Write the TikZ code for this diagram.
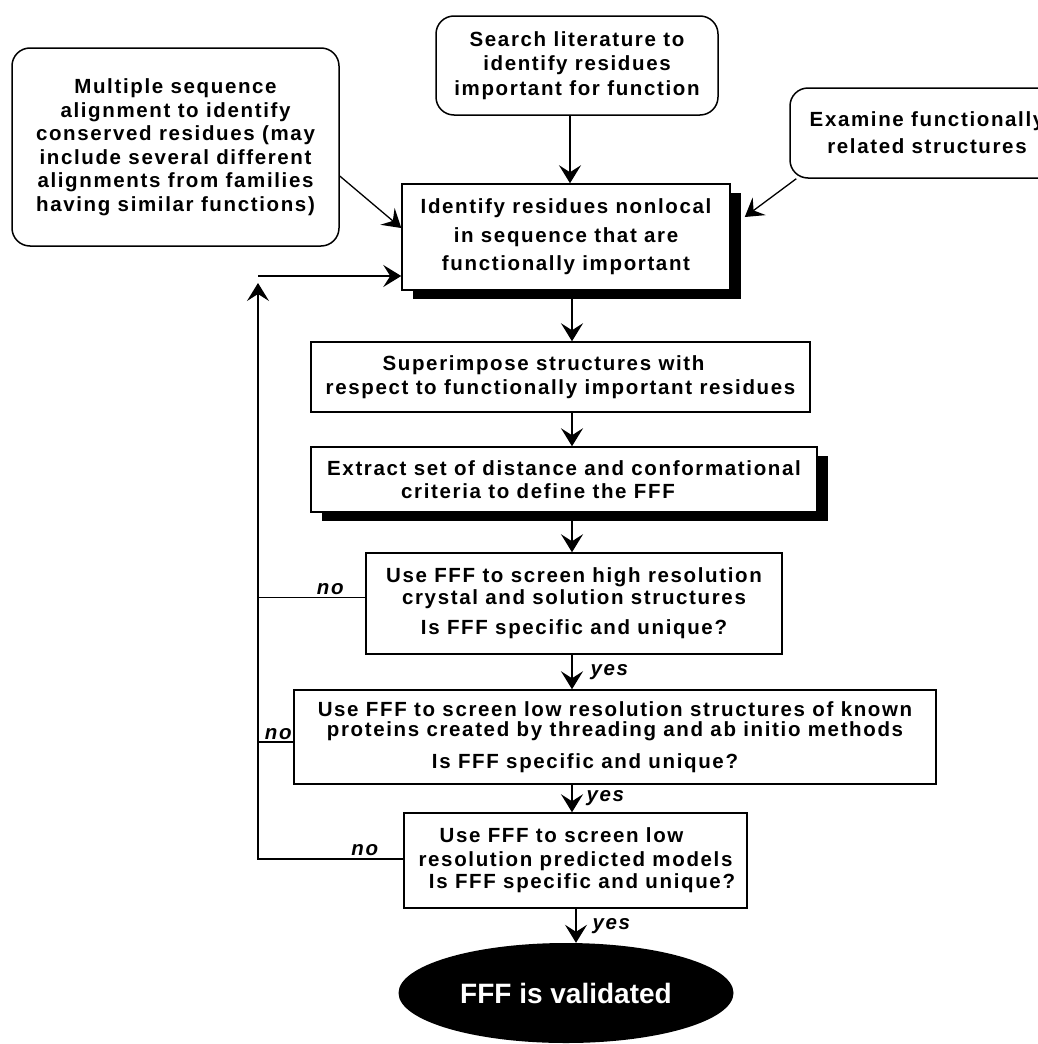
\documentclass[tikz,border=0pt]{standalone}
\usepackage{fontspec}
\usetikzlibrary{arrows.meta,shadows,shapes.geometric}
\newfontfamily\boxfont[LetterSpace=8]{Liberation Sans}
\newfontfamily\ovalfont{Liberation Sans}

\begin{document}
\begin{tikzpicture}[x=1pt,y=-1pt]

    % Page frame
    \useasboundingbox (0,0) rectangle (1037,1044);

    \tikzset{
      txt/.style={font=\boxfont\bfseries\fontsize{20.5pt}{23.5pt}\selectfont, align=center, inner sep=0pt},
      soft/.style={txt, draw, line width=1.5pt, rounded corners=18pt},
      box/.style={txt, draw, line width=1.5pt, fill=white},
      heavy/.style={box, drop shadow={shadow xshift=11pt, shadow yshift=-9pt, fill=black, opacity=1}},
      flow/.style={-{Stealth[length=18pt,width=22pt,inset=7pt]}, line width=1.3pt},
      loopline/.style={line width=1.3pt},
      answer/.style={font=\boxfont\bfseries\itshape\fontsize{20.5pt}{22pt}\selectfont, inner sep=0pt}
    }

    % Sources of residues
    \node[soft, minimum width=282pt, minimum height=99pt] (search) at (577,65.5)
      {Search literature to\\[1pt] identify residues\\[1pt] important for function};
    \node[soft, minimum width=327pt, minimum height=198pt] (multi) at (175.5,147)
      {Multiple sequence\\ alignment to identify\\ conserved residues (may\\ include several different\\ alignments from families\\ having similar functions)};
    \node[soft, minimum width=274pt, minimum height=90pt] (examine) at (927,133)
      {Examine functionally\\[3.5pt] related structures};

    % Main column
    \node[heavy, minimum width=328pt, minimum height=106pt] (identify) at (566,237)
      {Identify residues nonlocal\\[5pt] in sequence that are\\[5pt] functionally important};
    \node[box, minimum width=499pt, minimum height=70pt] (superimpose) at (560.5,377)
      {Superimpose structures with\hspace*{34pt}\\ respect to functionally important residues};
    \node[heavy, minimum width=506pt, minimum height=65pt] (extract) at (564,479.5)
      {Extract set of distance and conformational\\ criteria to define the FFF\hspace*{52pt}};
    \node[box, minimum width=416pt, minimum height=101pt] (high) at (574,603.5)
      {Use FFF to screen high resolution\\[-1.5pt] crystal and solution structures\\[6.5pt] Is FFF specific and unique?};
    \node[box, minimum width=642pt, minimum height=94pt] (low) at (615,737)
      {Use FFF to screen low resolution structures of known\\[-3.5pt] proteins created by threading and ab initio methods\\[8pt] Is FFF specific and unique?\hspace*{60pt}};
    \node[box, minimum width=343pt, minimum height=95pt] (predicted) at (575.5,860.5)
      {Use FFF to screen low\hspace*{28pt}\\ resolution predicted models\\[-1pt] \hspace*{13pt}Is FFF specific and unique?};
    \node[ellipse, fill=black, minimum width=335pt, minimum height=100pt, inner sep=0pt, text=white,
      font=\ovalfont\bfseries\fontsize{28pt}{32pt}\selectfont] (validated) at (566,993) {FFF is validated};

    \coordinate (spine) at (572,0);
    \coordinate (spineb) at (576,0);
    \coordinate (loop) at (258,276);
    \coordinate (searchfoot) at ([xshift=-7pt]search.south);
    \coordinate (highno) at ([yshift=6pt]high.west);
    \coordinate (lowno) at ([yshift=-5pt]low.west);
    \coordinate (predno) at ([yshift=1.5pt]predicted.west);

    % Into the main box
    \draw[flow] (searchfoot) -- (searchfoot |- identify.north);
    \draw[flow] ([yshift=-29pt]multi.east) -- ([yshift=9pt]identify.west);
    \draw[flow] ([xshift=7pt]examine.south west) -- ([xshift=14pt,yshift=20pt]identify.east);

    % Down the column
    \draw[flow] (identify.south -| spine) -- (superimpose.north -| spine);
    \draw[flow] (superimpose.south -| spine) -- (extract.north -| spine);
    \draw[flow] (extract.south -| spine) -- (high.north -| spine);
    \draw[flow] (high.south -| spine) -- (low.north -| spine) node[answer, midway, right=18pt] {yes};
    \draw[flow] (low.south -| spine) -- (predicted.north -| spine) node[answer, midway, right=14pt] {yes};
    \draw[flow] (predicted.south -| spineb) -- (validated.north -| spineb) node[answer, midway, right=16pt] {yes};

    % Back to the start on a no
    \draw[loopline] (highno) -- (highno -| loop) node[answer, pos=0, anchor=base east, xshift=-21pt, yshift=3pt] {no};
    \draw[loopline] (lowno) -- (lowno -| loop) node[answer, pos=0, anchor=base east, xshift=-1pt, yshift=3pt] {no};
    \draw[flow] (predno) -- (predno -| loop) -- ([yshift=-7pt]loop);
    \path (predno) node[answer, anchor=base east, xshift=-25pt, yshift=4pt] {no};
    \draw[flow] (loop) -- (loop -| identify.west);

\end{tikzpicture}
\end{document}
